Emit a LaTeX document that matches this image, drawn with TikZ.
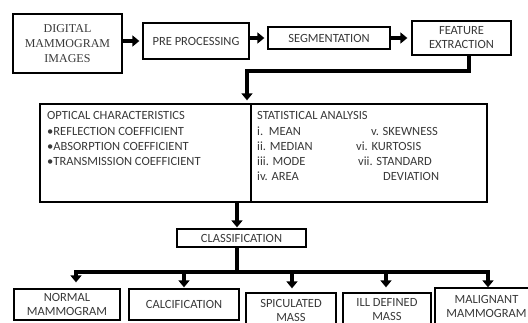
\documentclass[tikz,border=0pt]{standalone}
\usepackage{fontspec}
\setmainfont{Carlito}
\newfontfamily\seriff{Liberation Serif}
\usetikzlibrary{arrows.meta}
\definecolor{txt}{HTML}{383838}
\begin{document}
\begin{tikzpicture}[x=1pt,y=-1pt,
  box/.style={draw=black,line width=1.3pt,inner sep=0pt,align=center,text=txt,
    font=\fontsize{12.5}{14}\selectfont},
  lbl/.style={anchor=base west,inner sep=0pt,text=txt,font=\fontsize{12.5}{14}\selectfont},
  harr/.style={line width=4.5pt,-{Triangle[width=11pt,length=7pt]}},
  varr/.style={line width=4pt,-{Triangle[width=11pt,length=7pt]}},
  busline/.style={line width=4pt}]
\useasboundingbox (0,0) rectangle (528,323);
\begin{scope}
\clip (0,0) rectangle (528,323);
% top row
\node[box,minimum width=109,minimum height=59,font=\seriff\fontsize{12}{15}\selectfont] (dmi) at (67.5,43.5) {DIGITAL\\MAMMOGRAM\\IMAGES};
\node[box,minimum width=106,minimum height=36] (pre) at (196,41) {PRE PROCESSING};
\node[box,minimum width=122,minimum height=22] (seg) at (329,38) {SEGMENTATION};
\node[box,minimum width=99,minimum height=34] (fe) at (461.5,38) {FEATURE\\EXTRACTION};
% middle boxes
\node[box,minimum width=211,minimum height=98] (opt) at (145.5,153) {};
\node[box,minimum width=236,minimum height=98] (stat) at (369,153) {};
\node[lbl] at (47,120) {OPTICAL CHARACTERISTICS};
\node[lbl] at (47,136) {•REFLECTION COEFFICIENT};
\node[lbl] at (47,151) {•ABSORPTION COEFFICIENT};
\node[lbl] at (47,166) {•TRANSMISSION COEFFICIENT};
\node[lbl] at (257,120) {STATISTICAL ANALYSIS};
\node[lbl] at (257,135.5) {i.\ \ MEAN};
\node[lbl] at (257,151) {ii. MEDIAN};
\node[lbl] at (257,166) {iii. MODE};
\node[lbl] at (257,181) {iv. AREA};
\node[lbl] at (371,135.5) {v. SKEWNESS};
\node[lbl] at (356,151) {vi. KURTOSIS};
\node[lbl] at (358,166) {vii. STANDARD};
\node[lbl] at (383,181) {DEVIATION};
% classification
\node[box,minimum width=129,minimum height=18] (cls) at (241.5,238) {CLASSIFICATION};
% bottom
\node[box,minimum width=106,minimum height=31] (normal) at (67,304.5) {NORMAL\\MAMMOGRAM};
\node[box,minimum width=110,minimum height=31] (calc) at (184,304.5) {CALCIFICATION};
\node[box,minimum width=90,minimum height=34] (spic) at (291,310) {SPICULATED\\MASS};
\node[box,minimum width=88,minimum height=34] (ill) at (387,310) {ILL DEFINED\\MASS};
\node[box,minimum width=103,minimum height=36] (malig) at (486.5,306) {MALIGNANT\\MAMMOGRAM};
% top arrows
\draw[harr,shorten >=3pt] (dmi.east |- pre.west) -- (pre.west);
\draw[harr,shorten >=3pt] (pre.east |- seg.west) -- (seg.west);
\draw[harr,shorten >=4pt] (seg.east) -- (fe.west |- seg.east);
% feature -> middle
\coordinate (c1) at (247,71);
\draw[varr,shorten >=3pt] ([xshift=7.5pt]fe.south) |- (c1) -- (opt.north -| c1);
% middle -> classification
\coordinate (c2) at (237,272);
\draw[varr,shorten >=1pt] (opt.south -| c2) -- (cls.north -| c2);
\draw[busline] (cls.south -| c2) -- (c2);
\coordinate (b1) at (76,272);
\coordinate (b5) at (488,272);
\draw[busline] ([xshift=-2pt]b1) -- ([xshift=2pt]b5);
\draw[varr,shorten >=6pt] (b1) -- (b1 |- normal.north);
\draw[varr,shorten >=1pt] (calc.north |- c2) -- (calc.north);
\draw[varr,shorten >=4pt] ([xshift=1pt]spic.north |- c2) -- ([xshift=1pt]spic.north);
\draw[varr,shorten >=5pt] ([xshift=-1pt]ill.north |- c2) -- ([xshift=-1pt]ill.north);
\draw[varr] (b5) -- (b5 |- malig.north);
\end{scope}
\end{tikzpicture}
\end{document}
